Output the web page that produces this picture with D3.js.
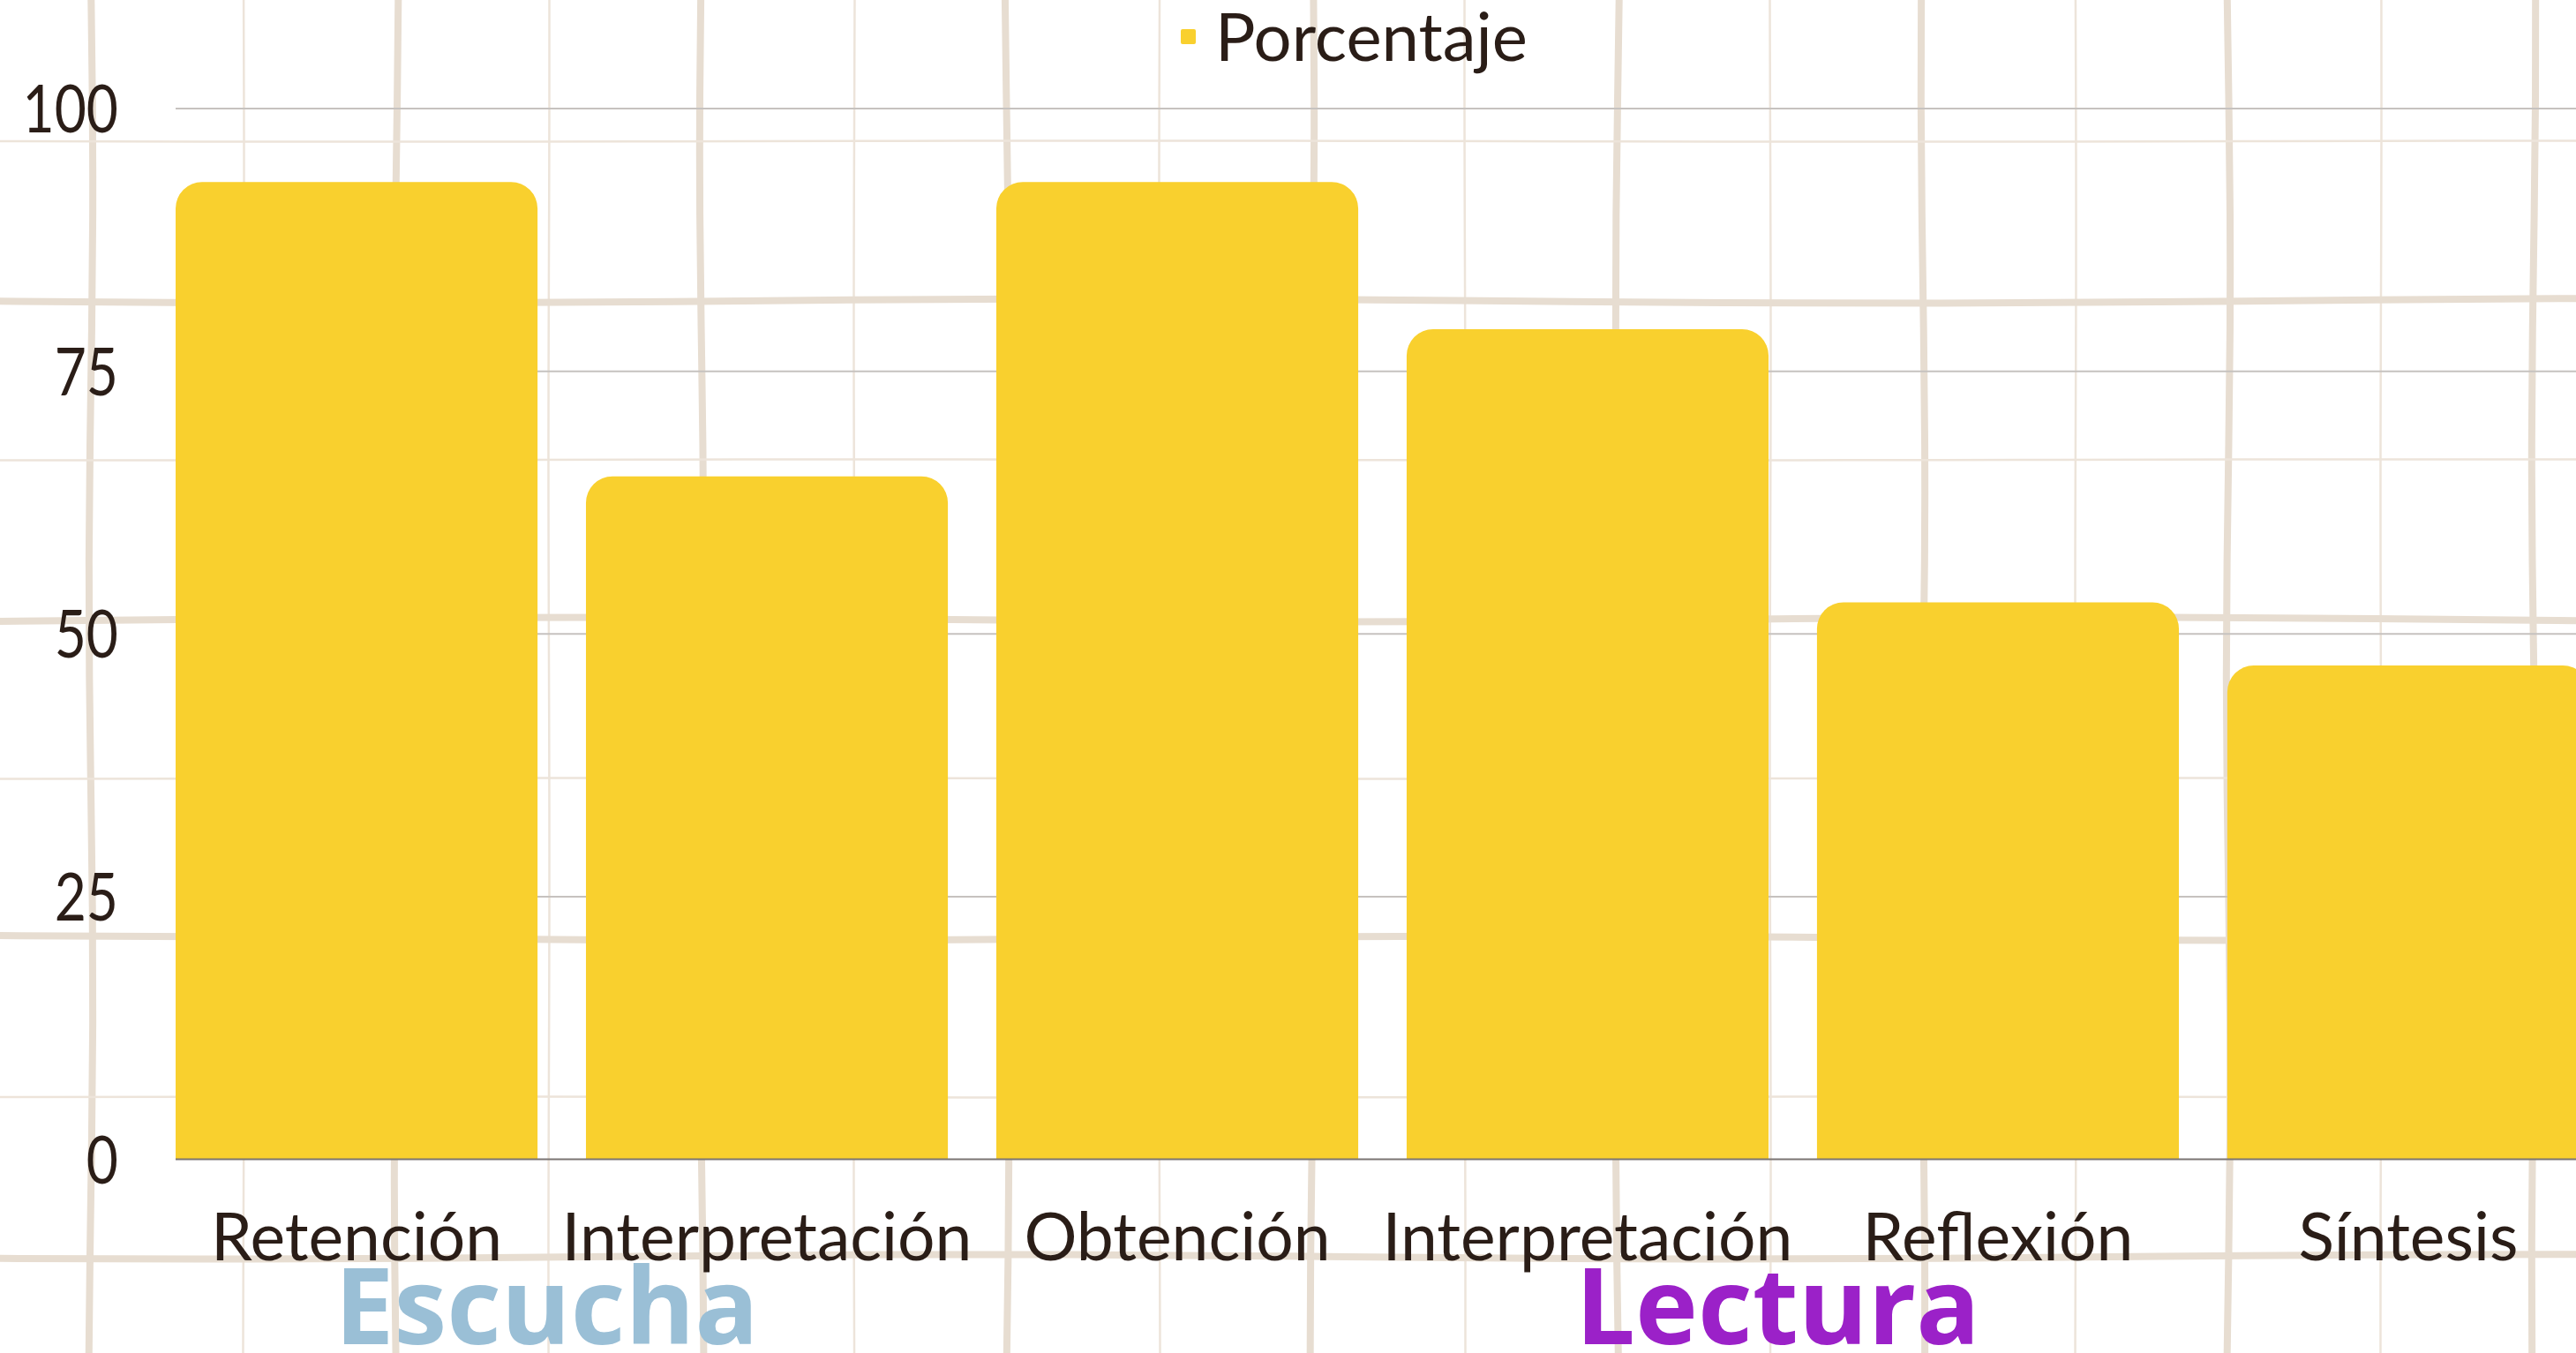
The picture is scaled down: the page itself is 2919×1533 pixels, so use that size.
<!DOCTYPE html>
<html>
<head>
<meta charset="utf-8">
<script src="https://d3js.org/d3.v7.min.js"></script>
<style>
  body { margin: 0; background: #fff; }
  svg { display: block; }
</style>
</head>
<body>
<div id="chart"></div>
<script>
// chart values
var categories = ["Retención", "Interpretación", "Obtención", "Interpretación", "Reflexión", "Síntesis"];
var porcentaje = [93, 65, 93, 79, 53, 47];
var seriesName = "Porcentaje";
var yTicks = [0, 25, 50, 75, 100];
var groupNames = ["Escucha", "Lectura"];
var groupOfCategory = [0, 0, 1, 1, 1, 1];

var W = 2919, H = 1533;
var svg = d3.select("#chart").append("svg")
  .attr("width", W)
  .attr("height", H);

svg.append("rect").attr("width", W).attr("height", H).attr("fill", "#fff");

// hand drawn looking background grid
var bg = svg.append("g");
function wobbly(horizontal, pos, amp, phase) {
  var pts = d3.range(0, 13).map(function (i) {
    var t = i / 12 * (horizontal ? W + 40 : H + 40) - 20;
    var off = amp * Math.sin(i * 0.9 + phase);
    return horizontal ? [t, pos + off] : [pos + off, t];
  });
  return d3.line().curve(d3.curveBasis)(pts);
}
d3.range(0, 9).forEach(function (k) {
  bg.append("path").attr("d", wobbly(false, 103 + 346 * k, 2.5, k * 1.7))
    .attr("fill", "none").attr("stroke", "#e7ddd1").attr("stroke-width", 8);
});
d3.range(0, 8).forEach(function (k) {
  bg.append("path").attr("d", wobbly(false, 276 + 346 * k, 0.6, k))
    .attr("fill", "none").attr("stroke", "#ede4da").attr("stroke-width", 2.5);
});
d3.range(0, 4).forEach(function (k) {
  bg.append("path").attr("d", wobbly(true, 341 + 361 * k, 3, k * 2.3))
    .attr("fill", "none").attr("stroke", "#e7ddd1").attr("stroke-width", 8);
  bg.append("path").attr("d", wobbly(true, 160 + 361 * k, 0.6, k))
    .attr("fill", "none").attr("stroke", "#ede4da").attr("stroke-width", 2.5);
});

// scales
var x = d3.scaleBand()
  .domain(d3.range(categories.length))
  .range([199, 2934])
  .paddingInner(0.118)
  .paddingOuter(0);

var y = d3.scaleLinear()
  .domain([0, 100])
  .range([1313.5, 123]);

// gridlines
svg.append("g").selectAll("line")
  .data(yTicks.filter(function (d) { return d > 0; }))
  .enter().append("line")
  .attr("x1", 199).attr("x2", W)
  .attr("y1", function (d) { return y(d); })
  .attr("y2", function (d) { return y(d); })
  .attr("stroke", "#c6c2bf")
  .attr("stroke-width", 2);

// bars with rounded tops
var r = 30;
function barPath(d, i) {
  var x0 = x(i), w = x.bandwidth(), y0 = y(0), yt = y(d);
  return "M" + x0 + "," + y0 +
    "V" + (yt + r) +
    "A" + r + "," + r + " 0 0 1 " + (x0 + r) + "," + yt +
    "H" + (x0 + w - r) +
    "A" + r + "," + r + " 0 0 1 " + (x0 + w) + "," + (yt + r) +
    "V" + y0 + "Z";
}
svg.append("g").selectAll("path")
  .data(porcentaje)
  .enter().append("path")
  .attr("d", barPath)
  .attr("fill", "#f9d02e");

// baseline
svg.append("line")
  .attr("x1", 199).attr("x2", W)
  .attr("y1", y(0)).attr("y2", y(0))
  .attr("stroke", "#7b7573")
  .attr("stroke-width", 2);

var textColor = "#2a1d17";
var labelFont = "Lato, 'Open Sans', sans-serif";

// y axis labels (digits squeezed a bit, the original font is narrow)
svg.append("g").selectAll("text")
  .data(yTicks)
  .enter().append("text")
  .attr("transform", function (d) { return "translate(134," + (y(d) + 27) + ") scale(0.82,1)"; })
  .attr("text-anchor", "end")
  .attr("font-family", labelFont)
  .attr("font-size", 76)
  .attr("fill", textColor)
  .text(function (d) { return d; });

// x axis labels
svg.append("g").selectAll("text")
  .data(categories)
  .enter().append("text")
  .attr("x", function (d, i) { return x(i) + x.bandwidth() / 2; })
  .attr("y", 1428)
  .attr("text-anchor", "middle")
  .attr("font-family", labelFont)
  .attr("font-size", 75)
  .attr("fill", textColor)
  .text(function (d) { return d; });

// legend
var legend = svg.append("g");
legend.append("rect")
  .attr("x", 1338).attr("y", 33)
  .attr("width", 17).attr("height", 17)
  .attr("rx", 2)
  .attr("fill", "#f9d02e");
legend.append("text")
  .attr("x", 1377).attr("y", 69)
  .attr("font-family", labelFont)
  .attr("font-size", 76)
  .attr("fill", textColor)
  .text(seriesName);

// group titles under the categories
var groupColors = ["#9abfd6", "#9b21c8"];
svg.append("g").selectAll("text")
  .data(groupNames)
  .enter().append("text")
  .attr("x", function (g, gi) {
    var idx = d3.range(categories.length).filter(function (i) { return groupOfCategory[i] === gi; });
    var a = x(idx[0]), b = x(idx[idx.length - 1]) + x.bandwidth();
    return (a + b) / 2 - 17;
  })
  .attr("y", 1523)
  .attr("text-anchor", "middle")
  .attr("font-family", "'Open Sans', 'Noto Sans', sans-serif")
  .attr("font-weight", 700)
  .attr("font-size", 120)
  .attr("fill", function (g, gi) { return groupColors[gi]; })
  .text(function (g) { return g; });
</script>
</body>
</html>
